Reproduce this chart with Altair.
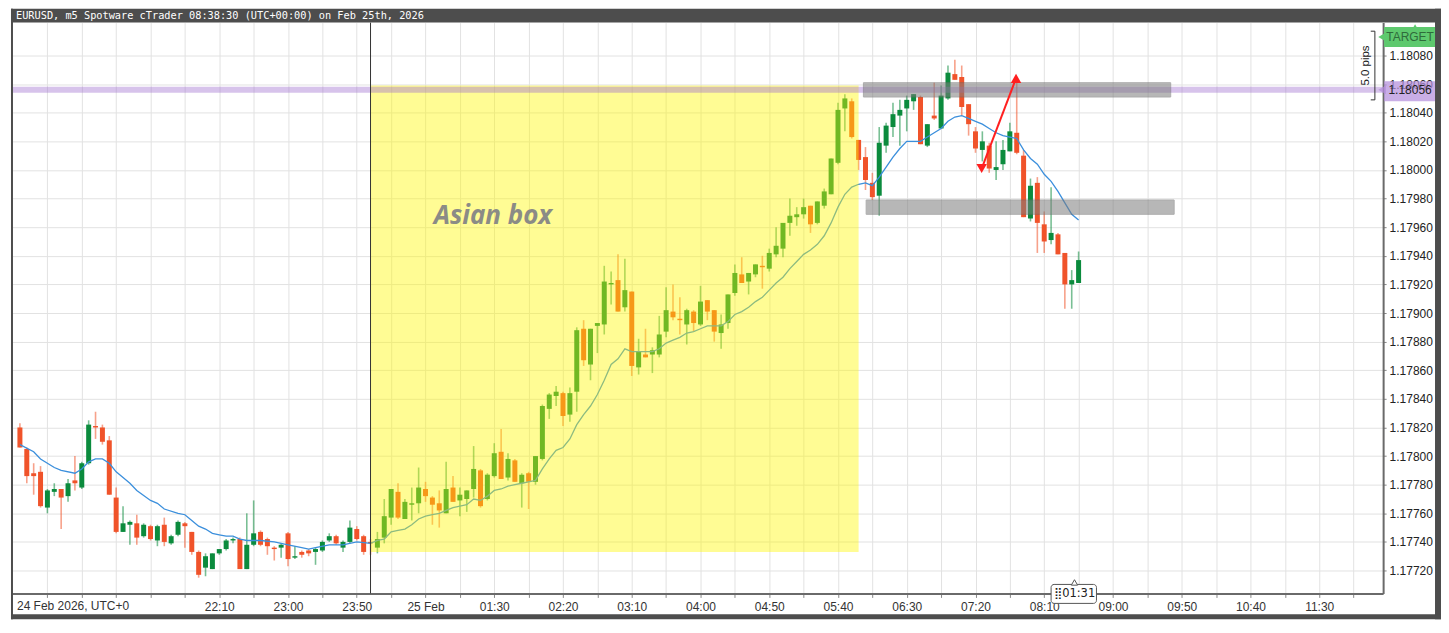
import altair as alt
import pandas as pd

# ---------------- data ----------------
first_bar = "2026-02-24 19:45"   # first visible 5-minute candle
bar_freq = "5min"

opens = [
    1.17820, 1.17805, 1.17788, 1.17789, 1.17764, 1.17775, 1.17777, 1.17772, 1.17783, 1.17778,
    1.17795, 1.17821, 1.17820, 1.17811, 1.17771, 1.17747, 1.17752, 1.17753, 1.17744, 1.17751,
    1.17741, 1.17752, 1.17739, 1.17745, 1.17753, 1.17747, 1.17733, 1.17722, 1.17721, 1.17732,
    1.17735, 1.17741, 1.17742, 1.17721, 1.17738, 1.17747, 1.17742, 1.17736, 1.17736, 1.17746,
    1.17729, 1.17733, 1.17734, 1.17733, 1.17734, 1.17741, 1.17744, 1.17736, 1.17740, 1.17749,
    1.17744, 1.17740, 1.17736, 1.17743, 1.17757, 1.17775, 1.17756, 1.17766, 1.17767, 1.17777,
    1.17771, 1.17767, 1.17760, 1.17778, 1.17769, 1.17770, 1.17777, 1.17790, 1.17770, 1.17786,
    1.17803, 1.17785, 1.17797, 1.17781, 1.17788, 1.17782, 1.17798, 1.17833, 1.17842, 1.17844,
    1.17829, 1.17845, 1.17889, 1.17864, 1.17891, 1.17892, 1.17920, 1.17923, 1.17904, 1.17915,
    1.17862, 1.17871, 1.17871, 1.17871, 1.17887, 1.17901, 1.17896, 1.17892, 1.17901, 1.17892,
    1.17909, 1.17902, 1.17886, 1.17893, 1.17914, 1.17927, 1.17922, 1.17927, 1.17933, 1.17931,
    1.17941, 1.17945, 1.17963, 1.17967, 1.17969, 1.17975, 1.17963, 1.17975, 1.17983, 1.18005,
    1.18043, 1.18048, 1.18021, 1.18009, 1.17991, 1.17982, 1.18017, 1.18030, 1.18038, 1.18043,
    1.18048, 1.18051, 1.18017, 1.18038, 1.18029, 1.18050, 1.18067, 1.18065, 1.18046, 1.18027,
    1.18014, 1.18017, 1.18000, 1.18004, 1.18013, 1.18026, 1.18010, 1.17966, 1.17991, 1.17962,
    1.17951, 1.17955, 1.17942, 1.17920, 1.17921,
]
highs = [
    1.17823, 1.17806, 1.17795, 1.17793, 1.17777, 1.17781, 1.17777, 1.17784, 1.17800, 1.17796,
    1.17825, 1.17831, 1.17822, 1.17814, 1.17778, 1.17765, 1.17755, 1.17759, 1.17753, 1.17752,
    1.17752, 1.17757, 1.17745, 1.17755, 1.17754, 1.17747, 1.17734, 1.17732, 1.17732, 1.17735,
    1.17742, 1.17743, 1.17743, 1.17760, 1.17769, 1.17748, 1.17743, 1.17737, 1.17739, 1.17747,
    1.17737, 1.17734, 1.17735, 1.17736, 1.17741, 1.17746, 1.17745, 1.17741, 1.17755, 1.17751,
    1.17745, 1.17742, 1.17747, 1.17770, 1.17777, 1.17781, 1.17770, 1.17778, 1.17792, 1.17782,
    1.17772, 1.17776, 1.17796, 1.17786, 1.17778, 1.17776, 1.17807, 1.17791, 1.17788, 1.17809,
    1.17819, 1.17802, 1.17798, 1.17788, 1.17789, 1.17800, 1.17836, 1.17844, 1.17849, 1.17845,
    1.17848, 1.17890, 1.17895, 1.17889, 1.17893, 1.17933, 1.17929, 1.17941, 1.17938, 1.17915,
    1.17882, 1.17889, 1.17876, 1.17898, 1.17918, 1.17920, 1.17911, 1.17903, 1.17902, 1.17919,
    1.17909, 1.17902, 1.17899, 1.17913, 1.17934, 1.17939, 1.17928, 1.17934, 1.17940, 1.17945,
    1.17960, 1.17963, 1.17980, 1.17974, 1.17980, 1.17975, 1.17978, 1.17987, 1.18008, 1.18047,
    1.18053, 1.18050, 1.18021, 1.18016, 1.17998, 1.18030, 1.18033, 1.18047, 1.18049, 1.18052,
    1.18053, 1.18052, 1.18032, 1.18061, 1.18059, 1.18073, 1.18077, 1.18073, 1.18046, 1.18030,
    1.18027, 1.18019, 1.18020, 1.18021, 1.18033, 1.18062, 1.18014, 1.17994, 1.17995, 1.17971,
    1.17988, 1.17956, 1.17942, 1.17930, 1.17943,
]
lows = [
    1.17806, 1.17781, 1.17773, 1.17764, 1.17760, 1.17772, 1.17749, 1.17768, 1.17776, 1.17777,
    1.17794, 1.17812, 1.17808, 1.17773, 1.17746, 1.17747, 1.17738, 1.17738, 1.17743, 1.17741,
    1.17737, 1.17737, 1.17738, 1.17744, 1.17736, 1.17731, 1.17715, 1.17716, 1.17721, 1.17731,
    1.17734, 1.17739, 1.17721, 1.17721, 1.17737, 1.17737, 1.17731, 1.17727, 1.17729, 1.17723,
    1.17728, 1.17729, 1.17730, 1.17724, 1.17733, 1.17740, 1.17738, 1.17733, 1.17739, 1.17741,
    1.17731, 1.17731, 1.17732, 1.17739, 1.17752, 1.17756, 1.17756, 1.17755, 1.17760, 1.17768,
    1.17752, 1.17750, 1.17760, 1.17768, 1.17758, 1.17761, 1.17771, 1.17764, 1.17769, 1.17785,
    1.17784, 1.17783, 1.17782, 1.17764, 1.17763, 1.17780, 1.17797, 1.17826, 1.17835, 1.17821,
    1.17824, 1.17831, 1.17863, 1.17853, 1.17872, 1.17885, 1.17906, 1.17901, 1.17901, 1.17856,
    1.17857, 1.17869, 1.17858, 1.17869, 1.17883, 1.17895, 1.17885, 1.17878, 1.17887, 1.17891,
    1.17895, 1.17880, 1.17875, 1.17889, 1.17912, 1.17921, 1.17913, 1.17925, 1.17917, 1.17929,
    1.17939, 1.17939, 1.17954, 1.17961, 1.17966, 1.17956, 1.17962, 1.17973, 1.17983, 1.18004,
    1.18027, 1.18022, 1.18000, 1.17986, 1.17979, 1.17968, 1.18012, 1.18023, 1.18017, 1.18027,
    1.18042, 1.18018, 1.18016, 1.18035, 1.18029, 1.18049, 1.18063, 1.18038, 1.18024, 1.18012,
    1.18006, 1.17998, 1.17993, 1.18000, 1.18013, 1.18011, 1.17967, 1.17964, 1.17942, 1.17942,
    1.17948, 1.17941, 1.17903, 1.17903, 1.17921,
]
closes = [
    1.17806, 1.17786, 1.17786, 1.17765, 1.17776, 1.17777, 1.17771, 1.17781, 1.17781, 1.17795,
    1.17822, 1.17820, 1.17810, 1.17773, 1.17747, 1.17753, 1.17754, 1.17743, 1.17752, 1.17742,
    1.17751, 1.17740, 1.17744, 1.17754, 1.17751, 1.17733, 1.17717, 1.17730, 1.17732, 1.17735,
    1.17741, 1.17742, 1.17721, 1.17738, 1.17746, 1.17738, 1.17737, 1.17735, 1.17738, 1.17728,
    1.17730, 1.17731, 1.17732, 1.17735, 1.17740, 1.17744, 1.17739, 1.17740, 1.17750, 1.17742,
    1.17733, 1.17739, 1.17742, 1.17758, 1.17777, 1.17757, 1.17768, 1.17767, 1.17778, 1.17772,
    1.17766, 1.17762, 1.17777, 1.17768, 1.17773, 1.17776, 1.17791, 1.17765, 1.17787, 1.17802,
    1.17784, 1.17798, 1.17782, 1.17787, 1.17782, 1.17800, 1.17835, 1.17843, 1.17845, 1.17828,
    1.17844, 1.17888, 1.17867, 1.17889, 1.17893, 1.17922, 1.17921, 1.17901, 1.17916, 1.17863,
    1.17873, 1.17869, 1.17874, 1.17885, 1.17902, 1.17897, 1.17895, 1.17902, 1.17893, 1.17908,
    1.17901, 1.17887, 1.17892, 1.17913, 1.17928, 1.17921, 1.17928, 1.17934, 1.17932, 1.17942,
    1.17947, 1.17963, 1.17968, 1.17969, 1.17974, 1.17962, 1.17978, 1.17985, 1.18008, 1.18042,
    1.18050, 1.18023, 1.18007, 1.17993, 1.17981, 1.18019, 1.18031, 1.18039, 1.18042, 1.18049,
    1.18053, 1.18018, 1.18032, 1.18036, 1.18052, 1.18068, 1.18063, 1.18044, 1.18032, 1.18015,
    1.18020, 1.18001, 1.18002, 1.18014, 1.18027, 1.18012, 1.17967, 1.17989, 1.17963, 1.17950,
    1.17956, 1.17941, 1.17920, 1.17923, 1.17937,
]

# moving-average line, read at these candle positions
ema_bars = [0, 2, 3, 5, 6, 8, 9, 10, 11, 12, 13, 14, 15, 16, 17, 19, 20, 21, 23, 24,
            25, 26, 27, 28, 29, 30, 31, 32, 33, 35, 37, 39, 41, 42, 43, 45, 47, 49, 51, 52] + list(range(53, 155))
ema_values = [
    1.17808, 1.17803, 1.17798, 1.17792, 1.17790, 1.17788, 1.17791, 1.17796, 1.17798, 1.17798,
    1.17795, 1.17789, 1.17785, 1.17781, 1.17776, 1.17769, 1.17767, 1.17763, 1.17760, 1.17759,
    1.17755, 1.17751, 1.17749, 1.17746, 1.17745, 1.17744, 1.17744, 1.17742, 1.17741, 1.17741,
    1.17740, 1.17738, 1.17736, 1.17735, 1.17736, 1.17738, 1.17738, 1.17740, 1.17739, 1.17741,
    1.17742, 1.17747, 1.17748, 1.17749, 1.17752, 1.17756, 1.17758, 1.17759, 1.17760, 1.17762,
    1.17764, 1.17765, 1.17766, 1.17770, 1.17769, 1.17772, 1.17776, 1.17777, 1.17779, 1.17780,
    1.17781, 1.17782, 1.17783, 1.17791, 1.17798, 1.17804, 1.17806, 1.17812, 1.17822, 1.17829,
    1.17835, 1.17843, 1.17853, 1.17864, 1.17868, 1.17875, 1.17873, 1.17873, 1.17873, 1.17873,
    1.17875, 1.17879, 1.17881, 1.17883, 1.17886, 1.17887, 1.17889, 1.17891, 1.17891, 1.17891,
    1.17894, 1.17899, 1.17901, 1.17904, 1.17908, 1.17911, 1.17916, 1.17921, 1.17925, 1.17931,
    1.17936, 1.17941, 1.17944, 1.17948, 1.17954, 1.17963, 1.17974, 1.17983, 1.17988, 1.17990,
    1.17991, 1.17989, 1.17995, 1.18002, 1.18009, 1.18015, 1.18020, 1.18020, 1.18020, 1.18023,
    1.18026, 1.18029, 1.18034, 1.18037, 1.18038, 1.18036, 1.18034, 1.18032, 1.18029, 1.18026,
    1.18024, 1.18023, 1.18022, 1.18014, 1.18008, 1.18004, 1.17997, 1.17992, 1.17985, 1.17977,
    1.17969, 1.17965,
]

# axis labels
x_label_texts = ["22:10", "23:00", "23:50", "25 Feb", "01:30", "02:20", "03:10", "04:00", "04:50",
                 "05:40", "06:30", "07:20", "08:10", "09:00", "09:50", "10:40", "11:30"]
x_label_times = ["2026-02-24 22:10", "2026-02-24 23:00", "2026-02-24 23:50", "2026-02-25 00:40",
                 "2026-02-25 01:30", "2026-02-25 02:20", "2026-02-25 03:10", "2026-02-25 04:00",
                 "2026-02-25 04:50", "2026-02-25 05:40", "2026-02-25 06:30", "2026-02-25 07:20",
                 "2026-02-25 08:10", "2026-02-25 09:00", "2026-02-25 09:50", "2026-02-25 10:40",
                 "2026-02-25 11:30"]
y_tick_values = [1.17720, 1.17740, 1.17760, 1.17780, 1.17800, 1.17820, 1.17840, 1.17860, 1.17880,
                 1.17900, 1.17920, 1.17940, 1.17960, 1.17980, 1.18000, 1.18020, 1.18040, 1.18060,
                 1.18080]

# annotations
asian_start, asian_end = "2026-02-25 00:00", "2026-02-25 05:55"
asian_high, asian_low = 1.18059, 1.17733
asian_text_time, asian_text_price = "2026-02-25 01:29", 1.17968
separator_time = "2026-02-25 00:00"
zone_start = ["2026-02-25 05:58:30", "2026-02-25 06:00:30"]
zone_end = ["2026-02-25 09:42:00", "2026-02-25 09:44:30"]
zone_top = [1.18061, 1.17979]
zone_bottom = [1.18051, 1.17969]
level_price = 1.18056
level_tag_top, level_tag_bottom = 1.18062, 1.18048
target_price = 1.18093
target_top, target_bottom = 1.18100, 1.18086
arrow_times = ["2026-02-25 07:24:30", "2026-02-25 07:49:30"]
arrow_prices = [1.18001, 1.18064]
measure_time, measure_tick_time = "2026-02-25 12:10:30", "2026-02-25 12:07:30"
measure_text_time = "2026-02-25 12:04:00"
measure_low, measure_high = 1.18049, 1.18097
countdown_start, countdown_end = "2026-02-25 08:15", "2026-02-25 08:48"
countdown_text_time = "2026-02-25 08:32:00"

header = "EURUSD, m5 Spotware cTrader 08:38:30 (UTC+00:00) on Feb 25th, 2026"

# ---------------- build ----------------
midnight = pd.Timestamp("2026-02-25 00:00")


def to_min(s):
    return (pd.Timestamp(s) - midnight).total_seconds() / 60.0


times = pd.date_range(first_bar, periods=len(opens), freq=bar_freq)
minutes = [(t - midnight).total_seconds() / 60.0 for t in times]

W, H = 1375, 572
xs = alt.Scale(domain=[-257.86, 732.86], nice=False, zero=False)
ys = alt.Scale(domain=[1.17704, 1.18103], nice=False, zero=False)

grid_values = list(range(-235, 716, 25))
label_vals = [int(to_min(s)) for s in x_label_times]
label_expr = " : ".join(f"datum.value == {v} ? '{t}'" for v, t in zip(label_vals, x_label_texts)) + " : ''"

x_axis = alt.Axis(values=grid_values, labelExpr=label_expr, grid=True, gridColor="#e2e2e2",
                  gridWidth=1, tickColor="#888", tickSize=4, domainColor="#6a6a6a", domainWidth=2,
                  labelFont="Liberation Sans", labelFontSize=12, labelColor="#333", labelPadding=4,
                  labelFlush=False, labelOverlap=False, title=None)
y_axis = alt.Axis(orient="right", values=y_tick_values, format=".5f", grid=True, gridColor="#e2e2e2",
                  tickColor="#888", tickSize=3, domainColor="#6a6a6a", domainWidth=2,
                  labelFont="Liberation Sans", labelFontSize=12, labelColor="#222", labelPadding=3,
                  labelOverlap=False, labelFlush=False, title=None)


def qx(f):
    return alt.X(f, type="quantitative", scale=xs, axis=x_axis)


def qy(f):
    return alt.Y(f, type="quantitative", scale=ys, axis=y_axis)


df = pd.DataFrame({"t": minutes, "o": opens, "h": highs, "l": lows, "c": closes})
df["dir"] = ["up" if c >= o else "down" for o, c in zip(opens, closes)]
cscale = alt.Scale(domain=["up", "down"], range=["#0b8b3d", "#f0532a"])

wicks = alt.Chart(df).mark_rule(strokeWidth=1.6, opacity=0.55).encode(
    x=qx("t"), y=qy("l"), y2="h:Q",
    color=alt.Color("dir:N", scale=cscale, legend=None),
)
bodies = alt.Chart(df).mark_bar(size=5).encode(
    x=qx("t"), y=qy("o"), y2="c:Q",
    color=alt.Color("dir:N", scale=cscale, legend=None),
)

ema_df = pd.DataFrame({"t": [minutes[i] for i in ema_bars], "v": ema_values})
ema = alt.Chart(ema_df).mark_line(color="#3b8fdc", strokeWidth=1.3).encode(x=qx("t"), y=qy("v"))

box_df = pd.DataFrame({"a": [to_min(asian_start)], "b": [to_min(asian_end)],
                       "top": [asian_high], "bot": [asian_low]})
asian_box = alt.Chart(box_df).mark_rect(color="#fff700", opacity=0.42).encode(
    x=qx("a"), x2="b:Q", y=qy("top"), y2="bot:Q")

level = alt.Chart(pd.DataFrame({"p": [level_price]})).mark_rule(
    color="#a070d0", strokeWidth=6, opacity=0.42).encode(y=qy("p"))

sep = alt.Chart(pd.DataFrame({"t": [to_min(separator_time)]})).mark_rule(
    color="#333333", strokeWidth=1).encode(x=qx("t"))

zones_df = pd.DataFrame({"a": [to_min(s) for s in zone_start], "b": [to_min(s) for s in zone_end],
                         "top": zone_top, "bot": zone_bottom})
zones = alt.Chart(zones_df).mark_rect(color="#7d7d7d", opacity=0.55, stroke="#6b6b6b",
                                      strokeWidth=1).encode(x=qx("a"), x2="b:Q", y=qy("top"), y2="bot:Q")

asian_txt = alt.Chart(pd.DataFrame({"t": [to_min(asian_text_time)], "p": [asian_text_price],
                                    "s": ["Asian box"]})).mark_text(
    font="Open Sans", fontSize=26, fontWeight="bold", fontStyle="italic", color="#8b8b86").encode(
    x=qx("t"), y=qy("p"), text="s:N")

arrow_df = pd.DataFrame({"t": [to_min(s) for s in arrow_times], "p": arrow_prices})
arrow_line = alt.Chart(arrow_df).mark_line(color="#ff1f1f", strokeWidth=2).encode(x=qx("t"), y=qy("p"))
arrow_down = alt.Chart(arrow_df.iloc[[0]]).mark_point(
    shape="triangle-down", filled=True, size=110, color="#ff1f1f", opacity=1).encode(x=qx("t"), y=qy("p"))
arrow_up = alt.Chart(arrow_df.iloc[[1]]).mark_point(
    shape="triangle-up", filled=True, size=110, color="#ff1f1f", opacity=1).encode(x=qx("t"), y=qy("p"))

m_df = pd.DataFrame({"t": [to_min(measure_time)], "t0": [to_min(measure_tick_time)],
                     "lo": [measure_low], "hi": [measure_high], "tt": [to_min(measure_text_time)],
                     "mid": [(measure_low + measure_high) / 2], "s": ["5.0 pips"]})
m_vert = alt.Chart(m_df).mark_rule(color="#333", strokeWidth=1).encode(x=qx("t"), y=qy("lo"), y2="hi:Q")
m_top = alt.Chart(m_df).mark_rule(color="#333", strokeWidth=1).encode(x=qx("t0"), x2="t:Q", y=qy("hi"))
m_bot = alt.Chart(m_df).mark_rule(color="#333", strokeWidth=1).encode(x=qx("t0"), x2="t:Q", y=qy("lo"))
m_txt = alt.Chart(m_df).mark_text(angle=270, fontSize=11.5, font="Liberation Sans", color="#222").encode(
    x=qx("tt"), y=qy("mid"), text="s:N")

# right-side price tags
tg_df = pd.DataFrame({"top": [target_top], "bot": [target_bottom], "mid": [target_price], "s": ["TARGET"]})
tg_box = alt.Chart(tg_df).mark_rect(color="#5ec96e").encode(
    x=alt.value(W + 1), x2=alt.value(W + 52), y=qy("top"), y2="bot:Q")
tg_ptr = alt.Chart(tg_df).mark_point(shape="triangle-left", filled=True, size=80, color="#5ec96e",
                                     opacity=1).encode(x=alt.value(W - 1), y=qy("mid"))
tg_notch = alt.Chart(tg_df).mark_point(shape="triangle-up", filled=True, size=40, color="#5ec96e",
                                       opacity=1).encode(x=alt.value(W + 32), y=qy("top"))
tg_txt = alt.Chart(tg_df).mark_text(font="Liberation Sans", fontSize=12, color="#2f6b3b").encode(
    x=alt.value(W + 27), y=qy("mid"), text="s:N")

lv_df = pd.DataFrame({"top": [level_tag_top], "bot": [level_tag_bottom], "mid": [level_price],
                      "s": [f"{level_price:.5f}"]})
lv_box = alt.Chart(lv_df).mark_rect(color="#b48fdc", opacity=0.72).encode(
    x=alt.value(W + 1), x2=alt.value(W + 52), y=qy("top"), y2="bot:Q")
lv_ptr = alt.Chart(lv_df).mark_point(shape="triangle-left", filled=True, size=80, color="#b48fdc",
                                     opacity=0.72).encode(x=alt.value(W - 1), y=qy("mid"))
lv_txt = alt.Chart(lv_df).mark_text(font="Liberation Sans", fontSize=12, color="#222").encode(
    x=alt.value(W + 27), y=qy("mid"), text="s:N")

# countdown tag on the time axis
cd_df = pd.DataFrame({"a": [to_min(countdown_start)], "b": [to_min(countdown_end)],
                      "t": [to_min(countdown_text_time)], "s": ["\u28ff01:31"]})
cd_box = alt.Chart(cd_df).mark_rect(color="white", stroke="#555", strokeWidth=1, cornerRadius=3).encode(
    x=qx("a"), x2="b:Q", y=alt.value(H - 9), y2=alt.value(H + 10))
cd_ptr = alt.Chart(cd_df).mark_point(shape="triangle-up", filled=True, size=40, color="white",
                                     stroke="#555", strokeWidth=1, opacity=1).encode(
    x=qx("t"), y=alt.value(H - 11))
cd_txt = alt.Chart(cd_df).mark_text(font="DejaVu Sans", fontSize=11.5, color="#222").encode(
    x=qx("t"), y=alt.value(H + 1), text="s:N")

# frame and header
one = pd.DataFrame({"s": [header]})
frame_color = "#4d4d4d"
hdr = alt.Chart(one).mark_rect(color=frame_color).encode(
    x=alt.value(0), x2=alt.value(1433), y=alt.value(-14), y2=alt.value(0))
left_bar = alt.Chart(one).mark_rect(color=frame_color).encode(
    x=alt.value(0), x2=alt.value(2), y=alt.value(-14), y2=alt.value(H + 26))
right_bar = alt.Chart(one).mark_rect(color=frame_color).encode(
    x=alt.value(1427), x2=alt.value(1433), y=alt.value(-14), y2=alt.value(H + 26))
bottom_bar = alt.Chart(one).mark_rect(color=frame_color).encode(
    x=alt.value(0), x2=alt.value(1433), y=alt.value(H + 21), y2=alt.value(H + 26))
hdr_txt = alt.Chart(one).mark_text(font="DejaVu Sans Mono", fontSize=10.3, color="white",
                                   align="left", baseline="middle").encode(
    x=alt.value(5), y=alt.value(-7), text="s:N")
date_txt = alt.Chart(pd.DataFrame({"s": ["24 Feb 2026, UTC+0"]})).mark_text(
    font="Liberation Sans", fontSize=12, color="#333", align="left", baseline="top").encode(
    x=alt.value(6), y=alt.value(H + 8), text="s:N")

chart = alt.layer(
    wicks, bodies, ema, asian_box, level, sep, zones, asian_txt,
    arrow_line, arrow_down, arrow_up, m_vert, m_top, m_bot, m_txt,
    tg_box, tg_ptr, tg_notch, tg_txt, lv_box, lv_ptr, lv_txt, cd_box, cd_ptr, cd_txt,
    hdr, left_bar, right_bar, bottom_bar, hdr_txt, date_txt,
).properties(width=W, height=H, padding=0, background="white").configure_view(stroke=None)

chart.save("out.html", embed_options={"renderer": "svg", "actions": False})
